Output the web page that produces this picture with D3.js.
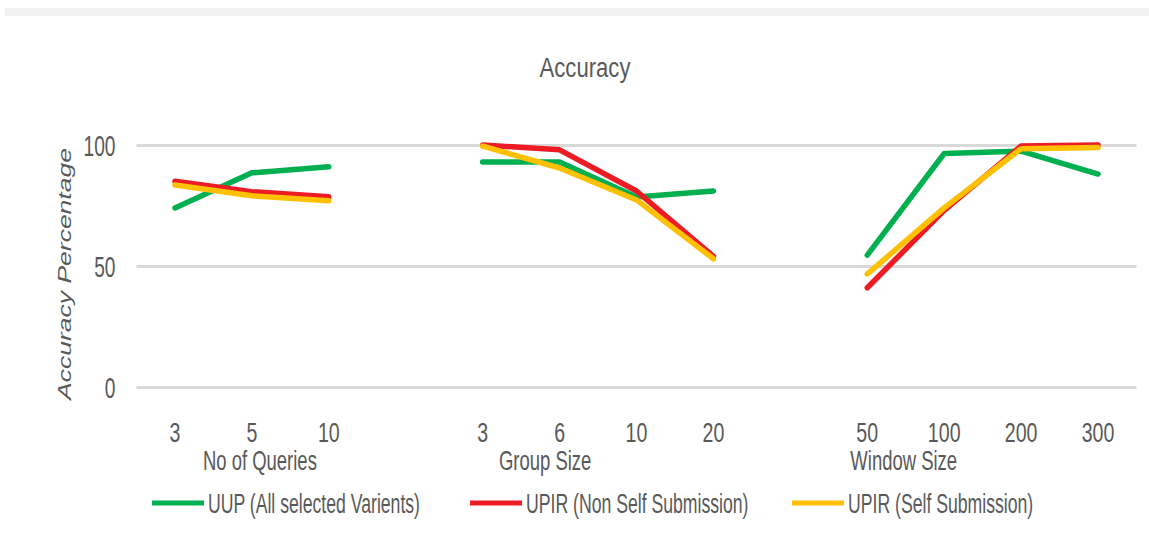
<!DOCTYPE html>
<html>
<head>
<meta charset="utf-8">
<script src="https://cdn.jsdelivr.net/npm/d3@7"></script>
<style>
  html, body { margin: 0; padding: 0; background: #ffffff; }
  svg { display: block; }
  text { font-family: "Liberation Sans", Arial, sans-serif; fill: #595959; }
</style>
</head>
<body>
<svg id="chart" width="1149" height="542"></svg>
<script>
// ---- data ----
const categories = ["3", "5", "10", "", "3", "6", "10", "20", "", "50", "100", "200", "300"];
const groupNames = ["No of Queries", "Group Size", "Window Size"];
const seriesNames = ["UUP (All selected Varients)", "UPIR (Non Self Submission)", "UPIR (Self Submission)"];
const uupValues      = [74, 88.5, 91, null, 93, 93, 78.5, 81, null, 54.5, 96.5, 97.5, 88];
const upirNonValues  = [85, 80.7, 78.6, null, 100, 98, 81, 54, null, 41, 73, 99.6, 100];
const upirSelfValues = [83.5, 79, 77, null, 99.5, 90.5, 77.3, 53, null, 46.7, 74, 98.5, 99];
const yTicks = [0, 50, 100];
const chartTitle = "Accuracy";
const yAxisTitle = "Accuracy Percentage";

// ---- styles ----
const colors = ["#00b050", "#ed1c24", "#ffc000"];
const seriesValues = [uupValues, upirNonValues, upirSelfValues];

const svg = d3.select("#chart");

// top band
svg.append("rect").attr("x", 5).attr("y", 8).attr("width", 1144).attr("height", 8).attr("fill", "#f2f2f2");

const x = d3.scaleBand().domain(d3.range(categories.length)).range([136.5, 1136.5]).padding(0);
const xc = i => x(i) + x.bandwidth() / 2;
const y = d3.scaleLinear().domain([0, 100]).range([387, 145]);

// y axis with gridlines
const yAxis = svg.append("g")
  .attr("transform", `translate(${x.range()[0]},0)`)
  .call(d3.axisLeft(y).tickValues(yTicks).tickSize(-(x.range()[1] - x.range()[0])).tickSizeOuter(0));
yAxis.select(".domain").remove();
yAxis.selectAll(".tick line").attr("stroke", "#d9d9d9").attr("stroke-width", 3);
const ySx = 0.66;
yAxis.selectAll(".tick text")
  .attr("x", -21 / ySx)
  .attr("dy", "0.36em")
  .attr("transform", `scale(${ySx},1)`)
  .style("font-size", "29px")
  .style("fill", "#595959");

// category tick labels
const cSx = 0.7;
svg.append("g").selectAll("text")
  .data(categories.map((c, i) => ({ c, i })).filter(d => d.c !== ""))
  .join("text")
  .attr("transform", d => `translate(${xc(d.i)},442) scale(${cSx},1)`)
  .attr("text-anchor", "middle")
  .style("font-size", "28px")
  .text(d => d.c);

// group labels (placed under their group)
const groupPos = [xc(1) + 8, (xc(4) + xc(5)) / 2 + 24, (xc(9) + xc(10)) / 2 - 2];
svg.append("g").selectAll("text")
  .data(groupNames)
  .join("text")
  .attr("transform", (d, i) => `translate(${groupPos[i]},470) scale(0.66,1)`)
  .attr("text-anchor", "middle")
  .style("font-size", "28px")
  .text(d => d);

// lines
const line = d3.line()
  .defined(d => d != null)
  .x((d, i) => xc(i))
  .y(d => y(d));
svg.append("g").selectAll("path")
  .data(seriesValues)
  .join("path")
  .attr("d", d => line(d))
  .attr("fill", "none")
  .attr("stroke", (d, i) => colors[i])
  .attr("stroke-width", 5.5)
  .attr("stroke-linejoin", "round")
  .attr("stroke-linecap", "round");

// title
svg.append("text")
  .attr("transform", "translate(585,77) scale(0.79,1)")
  .attr("text-anchor", "middle")
  .style("font-size", "28px")
  .text(chartTitle);

// y axis title
svg.append("text")
  .attr("transform", "translate(71,274) rotate(-90) scale(1,0.68)")
  .attr("text-anchor", "middle")
  .style("font-size", "26.5px")
  .style("font-style", "italic")
  .text(yAxisTitle);

// legend
const legendX = [152, 470, 792];
const legend = svg.append("g").selectAll("g")
  .data(seriesNames)
  .join("g")
  .attr("transform", (d, i) => `translate(${legendX[i]},503)`);
legend.append("line")
  .attr("x1", 0).attr("x2", 52).attr("y1", 0).attr("y2", 0)
  .attr("stroke", (d, i) => colors[i]).attr("stroke-width", 5);
legend.append("text")
  .attr("transform", "translate(56,0) scale(0.63,1)")
  .attr("dy", "0.36em")
  .style("font-size", "28px")
  .text(d => d);
</script>
</body>
</html>
